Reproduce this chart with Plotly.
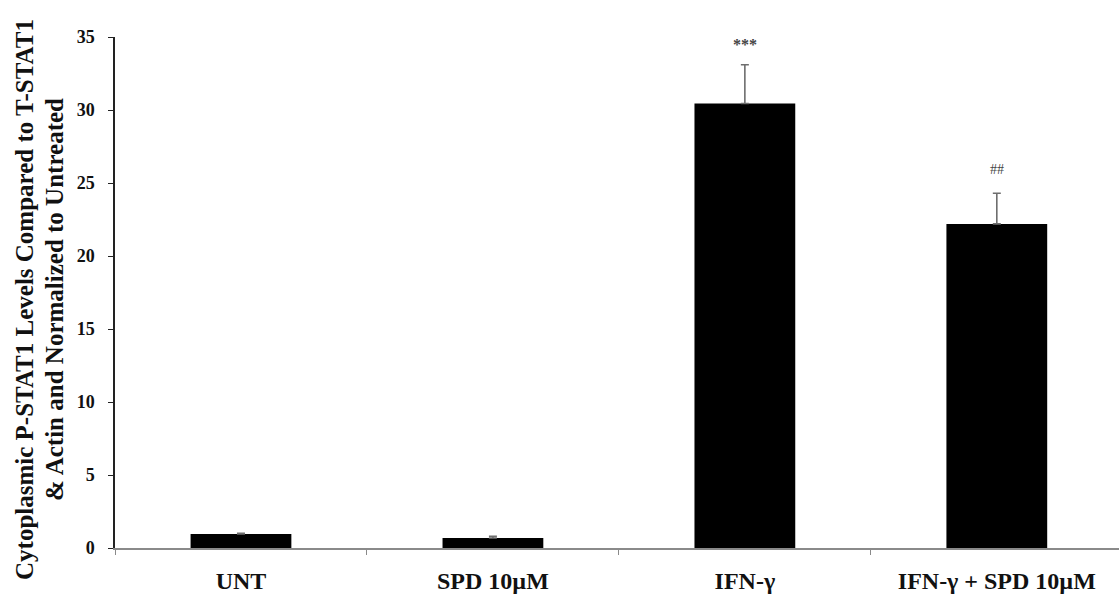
import plotly.graph_objects as go

# Treatment groups and measured values
categories = ["UNT", "SPD 10\u00b5M", "IFN-\u03b3", "IFN-\u03b3 + SPD 10\u00b5M"]
values = [0.96, 0.68, 30.45, 22.2]
errors = [0.05, 0.12, 2.65, 2.1]
significance = ["", "", "***", "##"]
y_title_lines = ["Cytoplasmic P-STAT1 Levels Compared to T-STAT1",
                 "& Actin and Normalized to Untreated"]

W, H = 1119, 598
left, right, top, bottom = 115, 0, 37, 50
plot_w, plot_h = W - left - right, H - top - bottom

fig = go.Figure()
fig.add_trace(go.Bar(
    x=categories,
    y=values,
    width=0.4,
    marker=dict(color="black", line=dict(width=0)),
    error_y=dict(type="data", array=errors, symmetric=False, arrayminus=[0]*4,
                 color="#6e6e6e", thickness=1.6, width=4),
    showlegend=False,
))

# significance markers above the error bars
for cat, v, e, s in zip(categories, values, errors, significance):
    if s:
        fig.add_annotation(x=cat, y=v + e, text=s, showarrow=False,
                           yanchor="bottom", yshift=14 if s == "##" else 10,
                           font=dict(family="Liberation Serif", size=16 if s == "***" else 14,
                                     color="#444444", weight="bold" if s == "***" else "normal"))

# two-line rotated y-axis title
for px, line in zip([24, 54], y_title_lines):
    fig.add_annotation(
        xref="paper", yref="paper",
        x=(px - left) / plot_w, y=(H - bottom - 300) / plot_h,
        text=line, textangle=-90, showarrow=False,
        xanchor="center", yanchor="middle",
        font=dict(family="Liberation Serif", size=25, color="#111111", weight="bold"),
    )

fig.update_layout(
    width=W, height=H,
    margin=dict(l=left, r=right, t=top, b=bottom, pad=0),
    paper_bgcolor="white", plot_bgcolor="white",
    bargap=0.6,
    font=dict(family="Liberation Serif", color="#111111"),
    xaxis=dict(
        type="category", range=[-0.5, 3.485],
        showline=True, linecolor="#8a8a8a", linewidth=2,
        ticks="outside", tickson="boundaries", ticklen=5, tickcolor="#8a8a8a",
        showgrid=False, zeroline=False,
        tickfont=dict(family="Liberation Serif", size=24, color="#111111", weight="bold"),
        ticklabelstandoff=10,
    ),
    yaxis=dict(
        range=[0, 35], tickvals=[0, 5, 10, 15, 20, 25, 30, 35],
        showline=True, linecolor="#222222", linewidth=1.5,
        ticks="outside", ticklen=5, tickcolor="#222222",
        showgrid=False, zeroline=False,
        tickfont=dict(family="Liberation Serif", size=18, color="#111111", weight="bold"),
        ticklabelstandoff=10,
    ),
)

fig.write_html("out.html")
